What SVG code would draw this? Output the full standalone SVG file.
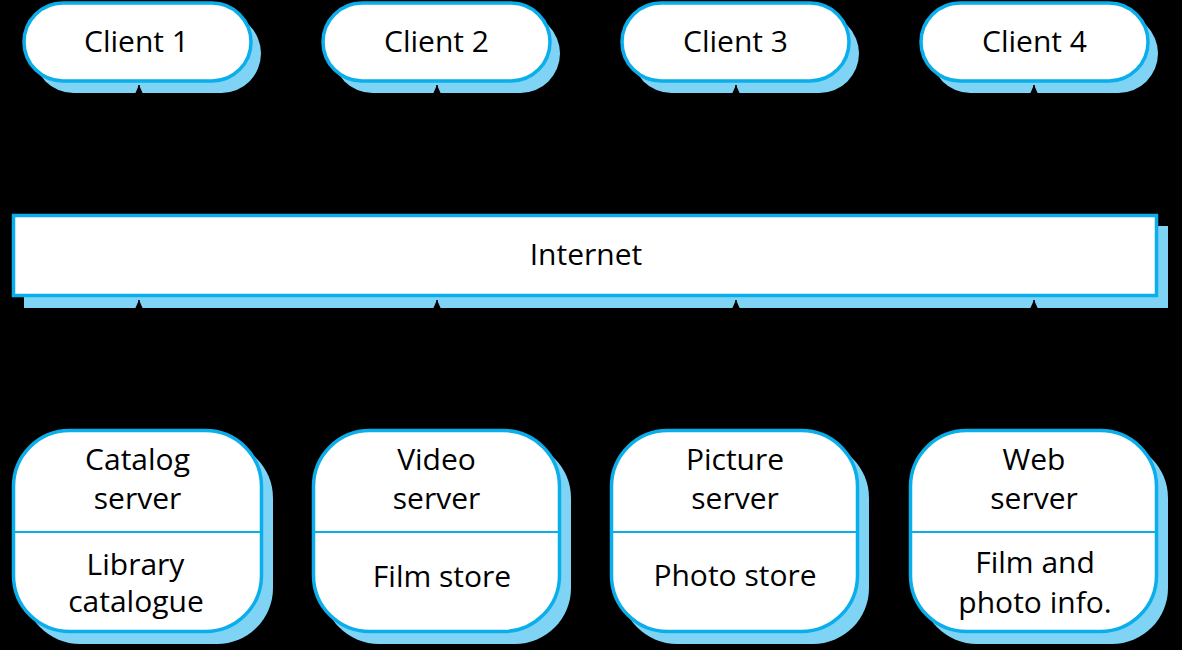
<svg xmlns="http://www.w3.org/2000/svg" width="1182" height="650" viewBox="0 0 1182 650">
<style>
.sh{fill:#7fd4f5;stroke:none}
.bx{fill:#ffffff;stroke:#0aaeea;stroke-width:3.5}
.dv{stroke:#0aaeea;stroke-width:2}
.t{font-family:"Open Sans","Noto Sans","Liberation Sans",sans-serif;font-size:30px;font-weight:500;fill:#000;text-anchor:middle}
.ln{stroke:#000;stroke-width:1.5;fill:none}
</style>
<defs>
<marker id="ah" viewBox="0 0 10 12" refX="10" refY="6" markerWidth="10" markerHeight="12" markerUnits="userSpaceOnUse" orient="auto">
<path d="M0,1.5 L10,6 L0,10.5 z" fill="#000"/>
</marker>
</defs>
<rect width="1182" height="650" fill="#000"/>
<g id="client1">
<rect class="sh" x="34" y="14" width="227" height="79" rx="39.5"/>
<rect class="bx" x="24" y="3" width="227" height="78" rx="39"/>
<text class="t" x="136.5" y="52">Client 1</text>
</g>
<g id="client2">
<rect class="sh" x="333" y="14" width="227" height="79" rx="39.5"/>
<rect class="bx" x="323" y="3" width="227" height="78" rx="39"/>
<text class="t" x="436.5" y="52">Client 2</text>
</g>
<g id="client3">
<rect class="sh" x="632" y="14" width="227" height="79" rx="39.5"/>
<rect class="bx" x="622" y="3" width="227" height="78" rx="39"/>
<text class="t" x="735.5" y="52">Client 3</text>
</g>
<g id="client4">
<rect class="sh" x="931" y="14" width="227" height="79" rx="39.5"/>
<rect class="bx" x="921" y="3" width="227" height="78" rx="39"/>
<text class="t" x="1034.5" y="52">Client 4</text>
</g>
<g id="internet">
<rect class="sh" x="24" y="226" width="1144" height="82"/>
<rect class="bx" x="13.5" y="215.5" width="1143" height="80"/>
<text class="t" x="586" y="265">Internet</text>
</g>
<g id="server1">
<rect class="sh" x="24" y="442" width="249" height="202" rx="56"/>
<rect class="bx" x="13.5" y="430.5" width="248" height="201" rx="56"/>
<line class="dv" x1="13.5" y1="532" x2="261.5" y2="532"/>
<text class="t" x="137.5" y="470">Catalog</text>
<text class="t" x="137.5" y="509">server</text>
<text class="t" x="135.5" y="575">Library</text>
<text class="t" x="136" y="612">catalogue</text>
</g>
<g id="server2">
<rect class="sh" x="323" y="442" width="248" height="202" rx="56"/>
<rect class="bx" x="313.5" y="430.5" width="246" height="201" rx="56"/>
<line class="dv" x1="313.5" y1="532" x2="559.5" y2="532"/>
<text class="t" x="436.5" y="470">Video</text>
<text class="t" x="436.5" y="509">server</text>
<text class="t" x="442" y="587">Film store</text>
</g>
<g id="server3">
<rect class="sh" x="621" y="442" width="248" height="202" rx="56"/>
<rect class="bx" x="611.5" y="430.5" width="246" height="201" rx="56"/>
<line class="dv" x1="611.5" y1="532" x2="857.5" y2="532"/>
<text class="t" x="735" y="470">Picture</text>
<text class="t" x="735" y="509">server</text>
<text class="t" x="735" y="586">Photo store</text>
</g>
<g id="server4">
<rect class="sh" x="921" y="442" width="247" height="202" rx="56"/>
<rect class="bx" x="910.5" y="430.5" width="246" height="201" rx="56"/>
<line class="dv" x1="910.5" y1="532" x2="1156.5" y2="532"/>
<text class="t" x="1034" y="470">Web</text>
<text class="t" x="1034" y="509">server</text>
<text class="t" x="1035" y="573">Film and</text>
<text class="t" x="1035" y="613">photo info.</text>
</g>
<g id="connectors">
<line class="ln" x1="139" y1="213" x2="139" y2="85" marker-end="url(#ah)"/>
<line class="ln" x1="437" y1="213" x2="437" y2="85" marker-end="url(#ah)"/>
<line class="ln" x1="736" y1="213" x2="736" y2="85" marker-end="url(#ah)"/>
<line class="ln" x1="1034" y1="213" x2="1034" y2="85" marker-end="url(#ah)"/>
<line class="ln" x1="139" y1="428" x2="139" y2="300" marker-end="url(#ah)"/>
<line class="ln" x1="437" y1="428" x2="437" y2="300" marker-end="url(#ah)"/>
<line class="ln" x1="736" y1="428" x2="736" y2="300" marker-end="url(#ah)"/>
<line class="ln" x1="1034" y1="428" x2="1034" y2="300" marker-end="url(#ah)"/>
</g>
</svg>
